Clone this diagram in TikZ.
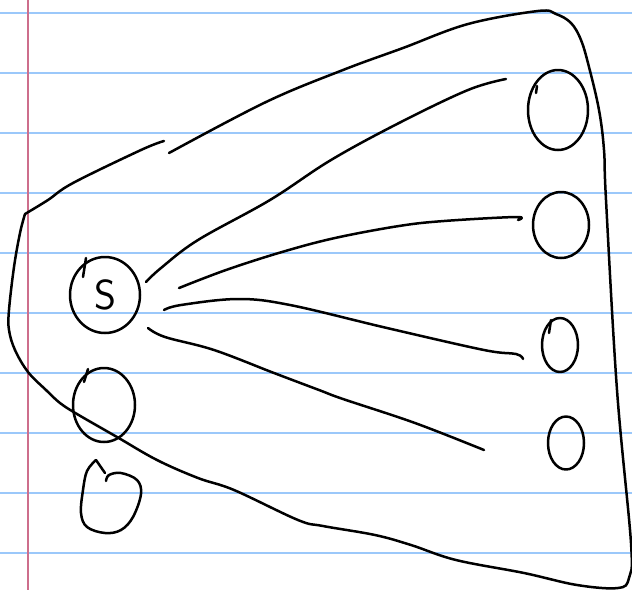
\documentclass[tikz,border=0pt]{standalone}
\usetikzlibrary{shapes.geometric}
\definecolor{ruleblue}{RGB}{155,200,250}
\definecolor{marginred}{RGB}{205,110,140}
\begin{document}
\begin{tikzpicture}[x=1pt,y=-1pt,
  ink/.style={line width=2.5pt, line cap=round, line join=round, black},
  blob/.style={ink, draw, shape=ellipse, inner sep=0pt},
  sm/.style={smooth, tension=0.6}]
\useasboundingbox (0,0) rectangle (632,590);
\fill[white] (0,0) rectangle (632,590);
% notebook paper
\foreach \y in {12.5,72.5,...,552.5}
  \draw[ruleblue, line width=2pt] (0,\y) -- (632,\y);
\draw[marginred, line width=1.5pt] (28,0) -- (28,590);

% outline blob
\draw[ink] plot[sm] coordinates {(164,141) (141,150) (73,183) (48,200) (25,214)};
\draw[ink] plot[sm] coordinates {(25,214) (20,233) (14,267) (9,310) (9,330) (15,350)
  (28,372) (46,390) (60,403) (77,414) (117,437) (157,460) (198,478) (234,490)
  (298,520) (323,526) (375,535) (411,545) (456,560) (524,573) (577,585) (618,588)
  (629,578) (631,543) (617,390) (606,200) (604,150) (599,110) (589,67) (581,40)
  (571,23) (556,14) (538,11) (468,24) (403,48) (343,70) (266,102) (169,153)};

% vertices
\node[blob, minimum width=70pt, minimum height=76pt] (S) at (105,295) {\fontsize{42}{42}\selectfont\sffamily S};
\draw[ink] (83,277) -- (86,258);
\node[blob, minimum width=62pt, minimum height=74pt] (L1) at (104,405) {};
\draw[ink] (84,382) -- (88,369);
\coordinate (L2) at (111,497);
\draw[ink] (105,473) -- (96,460);
\draw[ink] plot[sm] coordinates {(96,460) (87,471) (83,490) (81,513) (87,527) (105,533)
  (121,530) (133,517) (141,494) (137,480) (121,473) (109,475) (106,481)};
\node[blob, minimum width=60pt, minimum height=80pt] (R1) at (558,110) {};
\draw[ink] (536,93) -- (537,86);
\node[blob, minimum width=56pt, minimum height=66pt] (R2) at (561,225) {};
\node[blob, minimum width=36pt, minimum height=54pt] (R3) at (560,345) {};
\draw[ink] (549,333) -- (551,320);
\node[blob, minimum width=36pt, minimum height=53pt] (R4) at (566,443) {};

% connectors
\coordinate (e1a) at (146,282); \coordinate (e1b) at (506,79);
\coordinate (e2a) at (179,288); \coordinate (e2b) at (518,220);
\coordinate (e3a) at (164,310); \coordinate (e3b) at (523,359);
\coordinate (e4a) at (148,328); \coordinate (e4b) at (484,450);
\draw[ink] plot[sm] coordinates {(e1a) (161,268) (198,240) (270,200) (331,160) (399,123) (468,90) (e1b)};
\draw[ink] plot[sm] coordinates {(e2a) (226,270) (282,252) (335,238) (399,226) (444,221) (516,217) (e2b)};
\draw[ink] plot[sm] coordinates {(e3a) (181,305) (238,299) (290,305) (387,328) (484,350) (516,354) (e3b)};
\draw[ink] plot[sm] coordinates {(e4a) (165,337) (214,350) (274,373) (319,390) (343,399) (415,423) (e4b)};
\end{tikzpicture}
\end{document}
